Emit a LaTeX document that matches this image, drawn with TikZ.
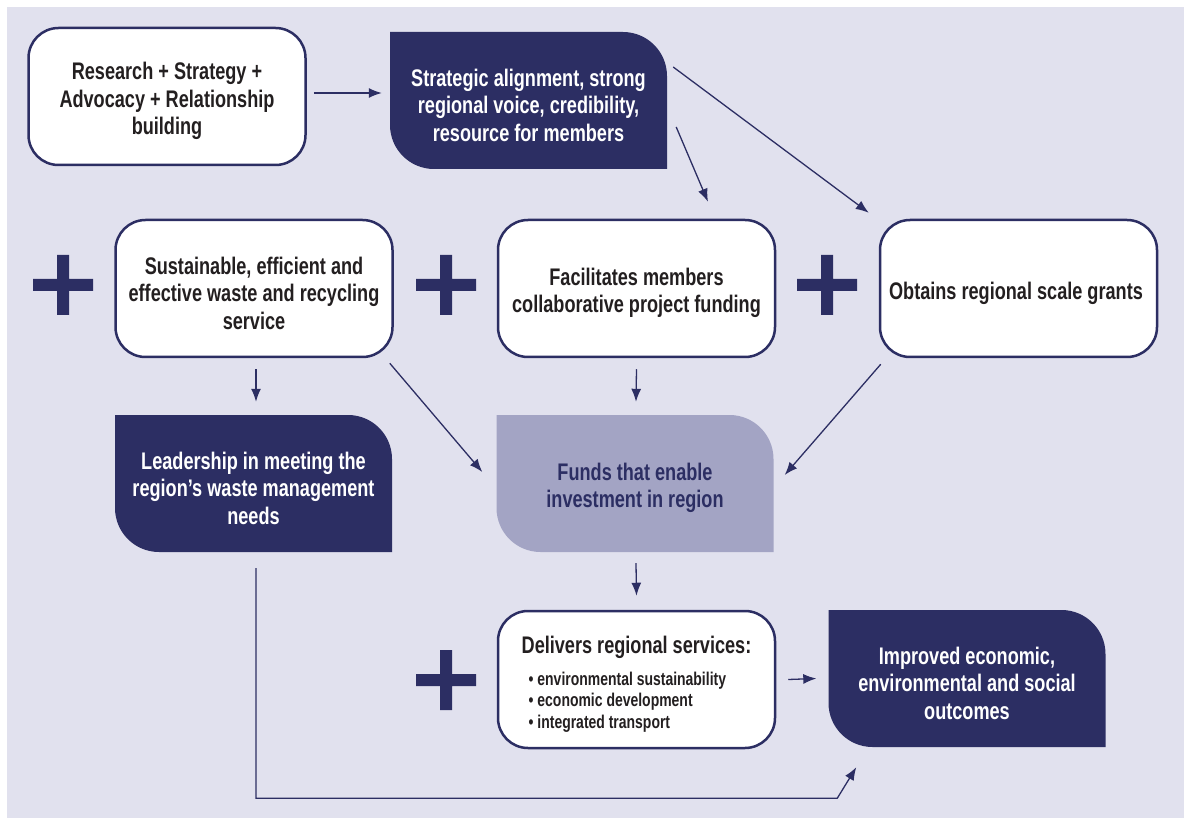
\documentclass[tikz,border=0pt]{standalone}
\usepackage{fontspec}
\setmainfont{Liberation Sans}[FakeStretch=0.755]
\usetikzlibrary{arrows.meta}

\definecolor{navy}{HTML}{2C2E63}
\definecolor{lavender}{HTML}{E1E1EE}
\definecolor{lilac}{HTML}{A3A4C4}
\definecolor{ink}{HTML}{231F20}

% extra room above the first line, so text sits a little lower
\newcommand{\topstrut}{\rule{0pt}{26.5pt}}

\begin{document}
\begin{tikzpicture}[%
					x=1pt, y=-1pt,
					box/.style={%
						rectangle,
						minimum width=277pt,
						minimum height=137pt,
						inner sep=0pt,
						align=center,
						font=\fontsize{24}{27.5}\selectfont\bfseries
					},
					roundbox/.style={%
						box,
						draw=navy,
						line width=2.5pt,
						rounded corners=30pt,
						fill=white,
						text=ink
					},
					leaf/.style={%
						box,
						text=white,
						path picture={%
							\fill[#1] (path picture bounding box.north west)
								-- ([xshift=-44pt]path picture bounding box.north east)
								arc[start angle=90, end angle=0, radius=44pt]
								-- (path picture bounding box.south east)
								-- ([xshift=44pt]path picture bounding box.south west)
								arc[start angle=270, end angle=180, radius=44pt]
								-- cycle;
						}
					},
					leaf/.default=navy,
					arr/.style={%
						-{Latex[length=13pt, width=10pt]},
						draw=navy,
						line width=1.3pt
					},
					plussign/.pic={%
						\fill[navy] (-30,-6) rectangle (30,6) (-6,-30) rectangle (6,30);
					}
				]

				\useasboundingbox (0,0) rectangle (1184,818);
				\fill[white] (0,0) rectangle (1184,818);
				\fill[lavender] (7,7) rectangle (1184,818);

				% top row
				\node[roundbox] (research) at (167, 96.5) {%
					\topstrut Research + Strategy + \\
					Advocacy + Relationship \\
					building
				};
				\node[leaf] (align) at (528.5, 100.5) {%
					\topstrut Strategic alignment, strong \\
					regional voice, credibility, \\
					resource for members
				};

				% middle row
				\pic at (63, 285) {plussign};
				\node[roundbox] (service) at (254, 288.5) {%
					\topstrut Sustainable, efficient and \\
					effective waste and recycling \\
					service
				};
				\pic at (446, 285) {plussign};
				\node[roundbox] (funding) at (636.5, 288.5) {%
					\topstrut Facilitates members \\
					collaborative project funding
				};
				\pic at (827, 285) {plussign};
				\node[roundbox] (grants) at (1018.5, 288.5) {%
					\topstrut Obtains regional scale grants
				};

				\node[leaf] (leadership) at (253.5, 483.5) {%
					\topstrut Leadership in meeting the \\
					region’s waste management \\
					needs
				};
				\node[leaf=lilac, text=navy] (funds) at (635, 483.5) {%
					\topstrut Funds that enable \\
					investment in region
				};

				% bottom row
				\pic at (446, 680) {plussign};
				\node[roundbox, align=left, font=\fontsize{18.5}{21.5}\selectfont\bfseries] (delivers) at (636.5, 679.5) {%
					\topstrut{\fontsize{24}{27}\selectfont Delivers regional services:} \\[10pt]
					\hspace*{7pt}\textbullet\ environmental sustainability \\
					\hspace*{7pt}\textbullet\ economic development \\
					\hspace*{7pt}\textbullet\ integrated transport
				};
				\node[leaf] (outcomes) at (967, 678.5) {%
					\topstrut Improved economic, \\
					environmental and social \\
					outcomes
				};

				% connectors
				\draw[arr] ([shift={(7,-3.5)}]research.east) -- ([shift={(-8,-7.5)}]align.west);
				\draw[arr] ([shift={(9,26.5)}]align.east) -- ([shift={(71.5,-17)}]funding.north);
				\draw[arr] ([shift={(6,-33.5)}]align.east) -- ([shift={(-10,-6)}]grants.north west);
				\draw[arr] ([shift={(2,11)}]service.south) -- ([shift={(2.5,-13)}]leadership.north);
				\draw[arr] ([shift={(-4,5)}]service.south east) -- ([shift={(-14,-11.5)}]funds.west);
				\draw[arr] ([shift={(0,11)}]funding.south) -- ([shift={(1,-13)}]funds.north);
				\draw[arr] ([shift={(2,6)}]grants.south west) -- ([shift={(11,-8.5)}]funds.east);
				\draw[arr] ([shift={(1,11)}]funds.south) -- ([shift={(0,-14)}]delivers.north);
				\draw[arr] ([shift={(12,0)}]delivers.east) -- ([shift={(-12,0)}]outcomes.west);
				\draw[arr] ([shift={(2.5,16)}]leadership.south) |- ([shift={(9,51)}]outcomes.south west)
					-- ([shift={(28,20)}]outcomes.south west);
			\end{tikzpicture}
\end{document}
